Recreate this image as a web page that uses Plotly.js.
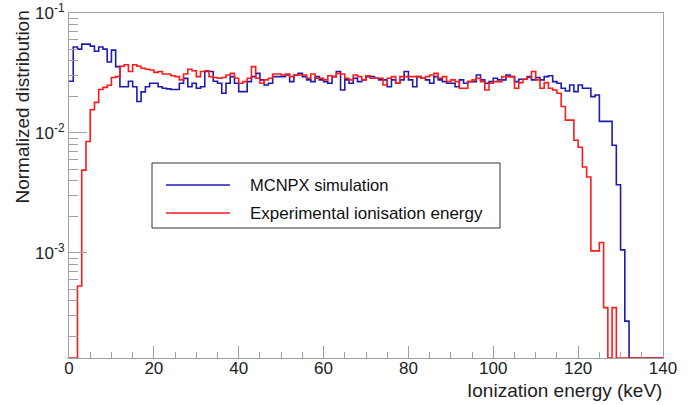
<!DOCTYPE html>
<html><head><meta charset="utf-8">
<script src="https://cdn.plot.ly/plotly-3.0.1.min.js"></script>
<style>html,body{margin:0;padding:0;background:#fff}#chart{width:694px;height:405px}</style>
</head><body><div id="chart"></div>
<script>
// Ionization energy histogram, 1 keV bins from 0 to 140 keV
const binWidth = 1;
const mcnpx = [
 0.027,0.052,0.050,0.055,0.055,0.053,0.048,0.052,0.050,0.039,0.049,0.0357,0.0243,0.0243,0.027,0.0243,0.0183,0.022,0.0243,0.026,
 0.026,0.0243,0.0236,0.0233,0.023,0.023,0.026,0.0285,0.0243,0.026,0.0236,0.0243,0.0325,0.0325,0.027,
 0.026,0.0214,0.026,0.0295,0.026,0.0221,0.0221,0.0268,0.0295,0.0314,0.0277,0.0251,0.026,0.0295,0.0295,0.0295,0.0304,0.0268,0.0304,0.0314,
 0.0295,0.0277,0.0268,0.0295,0.0277,0.0268,0.026,0.0295,0.0325,0.0228,0.0277,0.026,0.0286,0.0268,0.0277,
 0.0295,0.0295,0.0286,0.0277,0.0277,0.0243,0.0277,0.026,0.0277,0.0325,0.0277,0.0243,0.0295,0.0286,0.0277,0.026,0.0295,0.0277,0.0268,0.026,
 0.026,0.0243,0.0277,0.026,0.0268,0.0268,0.0304,0.0277,0.026,0.0268,0.0286,0.0277,0.0277,0.0304,
 0.0295,0.0268,0.028,0.028,0.0295,0.0277,0.029,0.0277,0.0295,0.030,0.0268,0.026,0.0236,0.0224,0.0251,0.0221,0.0251,0.0236,0.0236,0.0201,0.0207,
 0.0125,0.0125,0.0125,0.0079,0.0037,0.00106,0.00027,0,0,0,0,0,0,0,0
];
const experimental = [
 0,0,0.00053,0.0049,0.0085,0.0156,0.018,0.023,0.024,0.025,0.029,0.0295,0.036,0.037,0.0325,0.037,0.036,0.0346,0.034,0.0335,
 0.032,0.0325,0.031,0.031,0.030,0.0295,0.0277,0.031,0.034,0.033,0.0295,0.0325,0.033,0.0295,0.029,
 0.0286,0.029,0.0304,0.0314,0.0286,0.026,0.0268,0.0286,0.0357,0.0286,0.026,0.0277,0.0286,0.031,0.031,0.0304,0.031,0.0295,0.0304,0.0304,
 0.0304,0.0286,0.031,0.0286,0.0286,0.0277,0.030,0.0295,0.0314,0.031,0.0286,0.0277,0.0304,0.0295,0.0277,
 0.030,0.0286,0.0286,0.0286,0.0251,0.0286,0.0295,0.026,0.0295,0.0295,0.0295,0.0295,0.0295,0.0286,0.0295,0.0304,0.0314,0.0286,0.0295,0.0268,
 0.0277,0.0268,0.0236,0.0236,0.0268,0.0277,0.0286,0.0268,0.0228,0.026,0.0268,0.0268,0.0295,0.0295,
 0.0295,0.0236,0.0263,0.028,0.029,0.0325,0.0277,0.0236,0.0263,0.0236,0.0228,0.0214,0.0166,0.0128,0.0128,0.0087,0.0076,0.0052,0.0043,
 0.00104,0.00104,0.00122,0.00035,0,0.00035,0,0,0,0,0,0,0,0,0,0,0
];
const seriesNames = ['MCNPX simulation', 'Experimental ionisation energy'];
const seriesColors = ['#1c1cb0', '#ff1a1a'];
const xTickVals = [0, 20, 40, 60, 80, 100, 120, 140];
const yTickVals = [1e-3, 1e-2, 1e-1];
const yTickText = ['10<sup>-3</sup>', '10<sup>-2</sup>', '10<sup>-1</sup>'];
const xTitle = 'Ionization energy (keV)';
const yTitle = 'Normalized distribution';

const W = 694, H = 405, L = 69, R = 31, T = 13, B = 47;
const yLogMin = -3.876, yLogMax = -1;
const yFloor = Math.pow(10, yLogMin);
const pw = W - L - R, ph = H - T - B;
const px = x => (x - L) / pw;
const py = y => 1 - (y - T) / ph;

function stepTrace(vals, name, color) {
  const xs = vals.map((_, i) => i * binWidth);
  xs.push(vals.length * binWidth);
  const ys = vals.map(v => v > 0 ? v : yFloor);
  ys.push(ys[ys.length - 1]);
  return {x: xs, y: ys, type: 'scatter', mode: 'lines', name: name,
    line: {shape: 'hv', color: color, width: 1.6}, hoverinfo: 'skip'};
}

const traces = [
  stepTrace(mcnpx, seriesNames[0], seriesColors[0]),
  stepTrace(experimental, seriesNames[1], seriesColors[1])
];

const minorY = [];
for (let e = -4; e <= -2; e++) for (let m = 2; m <= 9; m++) {
  const v = m * Math.pow(10, e);
  if (Math.log10(v) > yLogMin) minorY.push(v);
}

const axisGray = '#a0a0a0';
const fontFam = 'Liberation Sans, Arial, sans-serif';
const layout = {
  width: W, height: H,
  margin: {l: L, r: R, t: T, b: B, pad: 0},
  paper_bgcolor: '#fff', plot_bgcolor: '#fff',
  showlegend: false,
  font: {family: fontFam, size: 16, color: '#222'},
  xaxis: {
    range: [0, 140], showgrid: false, zeroline: false,
    showline: true, linecolor: axisGray, linewidth: 1, mirror: true,
    ticks: 'inside', ticklen: 12, tickcolor: axisGray, tickwidth: 1,
    tickmode: 'array', tickvals: xTickVals, ticklabelstandoff: -5,
    tickfont: {family: fontFam, size: 17, color: '#222'},
    minor: {dtick: 5, ticks: 'inside', ticklen: 6, tickcolor: axisGray, showgrid: false}
  },
  yaxis: {
    type: 'log', range: [yLogMin, yLogMax], showgrid: false, zeroline: false,
    showline: true, linecolor: axisGray, linewidth: 1, mirror: true,
    ticks: 'inside', ticklen: 18, tickcolor: axisGray, tickwidth: 1,
    tickmode: 'array', tickvals: yTickVals, ticktext: yTickText,
    tickfont: {family: fontFam, size: 17, color: '#222'},
    minor: {tickmode: 'array', tickvals: minorY, ticks: 'inside', ticklen: 9, tickcolor: axisGray, showgrid: false}
  },
  shapes: [
    {type: 'rect', xref: 'paper', yref: 'paper', x0: px(152), x1: px(500), y0: py(163), y1: py(228),
     line: {color: '#333', width: 1}, fillcolor: '#fff', layer: 'above'},
    {type: 'line', xref: 'paper', yref: 'paper', x0: px(166), x1: px(230), y0: py(185), y1: py(185),
     line: {color: seriesColors[0], width: 1.6}, layer: 'above'},
    {type: 'line', xref: 'paper', yref: 'paper', x0: px(166), x1: px(230), y0: py(213), y1: py(213),
     line: {color: seriesColors[1], width: 1.6}, layer: 'above'}
  ],
  annotations: [
    {text: seriesNames[0], xref: 'paper', yref: 'paper', x: px(248), y: py(185), xanchor: 'left', yanchor: 'middle',
     showarrow: false, font: {family: fontFam, size: 16.5, color: '#111'}},
    {text: seriesNames[1], xref: 'paper', yref: 'paper', x: px(248), y: py(213), xanchor: 'left', yanchor: 'middle',
     showarrow: false, font: {family: fontFam, size: 17, color: '#111'}},
    {text: xTitle, xref: 'paper', yref: 'paper', x: px(664), y: py(390), xanchor: 'right', yanchor: 'middle',
     showarrow: false, font: {family: fontFam, size: 19, color: '#222'}},
    {text: yTitle, xref: 'paper', yref: 'paper', x: px(22), y: py(9), xanchor: 'center', yanchor: 'top',
     textangle: -90, showarrow: false, font: {family: fontFam, size: 19, color: '#222'}}
  ]
};

Plotly.newPlot('chart', traces, layout, {displayModeBar: false, staticPlot: true});
</script>
</body></html>
